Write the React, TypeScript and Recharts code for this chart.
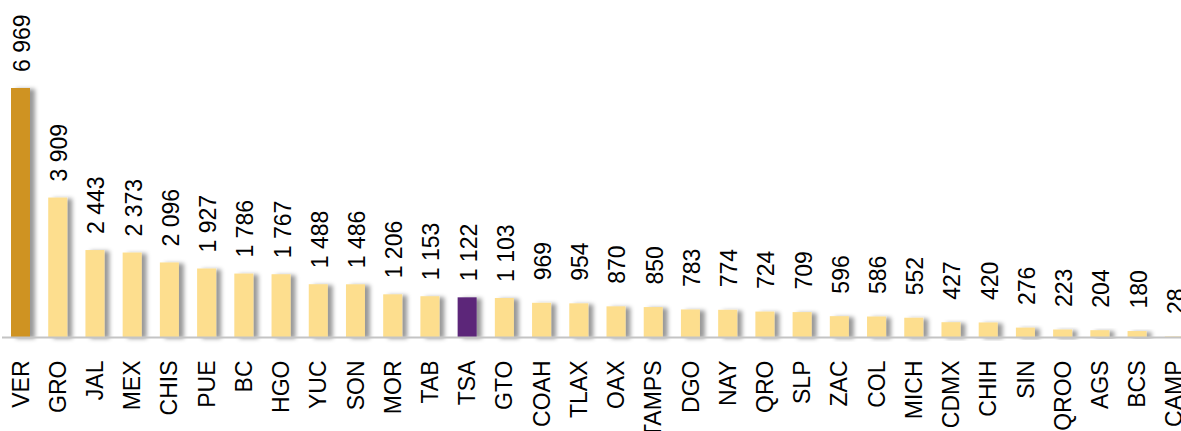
import React from 'react';
import { BarChart, Bar, XAxis, YAxis, LabelList, Cell } from 'recharts';

const categories = ['VER','GRO','JAL','MEX','CHIS','PUE','BC','HGO','YUC','SON','MOR','TAB','TSA','GTO','COAH','TLAX','OAX','TAMPS','DGO','NAY','QRO','SLP','ZAC','COL','MICH','CDMX','CHIH','SIN','QROO','AGS','BCS','CAMP'];
const values = [6969,3909,2443,2373,2096,1927,1786,1767,1488,1486,1206,1153,1122,1103,969,954,870,850,783,774,724,709,596,586,552,427,420,276,223,204,180,28];
const leaderCategory = 'VER';
const focusCategory = 'TSA';

const COLOR_LEADER = '#CF9322';
const COLOR_FOCUS = '#5B2579';
const COLOR_OTHER = '#FDDE8E';
const FONT = '"Liberation Sans", Arial, sans-serif';
const FS = 23;

const data = categories.map((c, i) => ({ name: c, value: values[i] }));

const fmt = (v: number) => String(v).replace(/\B(?=(\d{3})+(?!\d))/g, ' ');

const BarShape = (props: any) => {
  const { x, y, width, height, fill } = props;
  if (!height || height <= 0) return null;
  return <rect x={x} y={y} width={width} height={height} fill={fill} filter="url(#barShadow)" />;
};

const ValueLabel = (props: any) => {
  const { x, y, width, value } = props;
  const v = Number(value);
  const tx = x + width / 2 + 9.5;
  const ty = y - (v < 1000 ? 22.5 : 16);
  return (
    <text x={tx} y={ty} transform={`rotate(-90, ${tx}, ${ty})`} textAnchor="start" fontSize={FS} fontFamily={FONT} fill="#000">
      {fmt(v)}
    </text>
  );
};

const CategoryTick = (props: any) => {
  const { x, y, payload } = props;
  const tx = x + 8;
  const ty = y + 15;
  return (
    <text x={tx} y={ty} transform={`rotate(-90, ${tx}, ${ty})`} textAnchor="end" fontSize={FS} fontFamily={FONT} fill="#000">
      {payload.value}
    </text>
  );
};

export default function App() {
  return (
    <div style={{ position: 'fixed', left: 0, top: 0, width: 1181, height: 431, overflow: 'hidden', background: '#fff' }}>
      <svg width={0} height={0} style={{ position: 'absolute' }}>
        <defs>
          <filter id="barShadow" x="-50%" y="-20%" width="200%" height="140%">
            <feDropShadow dx={5} dy={1} stdDeviation={2} floodColor="#000" floodOpacity={0.4} />
          </filter>
        </defs>
      </svg>
      <BarChart width={1200} height={431} data={data} margin={{ top: 88, right: 7, bottom: 0, left: 2 }}>
        <XAxis
          dataKey="name"
          interval={0}
          tickLine={false}
          axisLine={{ stroke: '#c4c4c4', strokeWidth: 2 }}
          tick={<CategoryTick />}
          height={93.5}
        />
        <YAxis hide domain={[0, 'dataMax']} />
        <Bar dataKey="value" barSize={19} isAnimationActive={false} shape={<BarShape />}>
          {data.map((d) => (
            <Cell key={d.name} fill={d.name === leaderCategory ? COLOR_LEADER : d.name === focusCategory ? COLOR_FOCUS : COLOR_OTHER} />
          ))}
          <LabelList dataKey="value" content={<ValueLabel />} />
        </Bar>
      </BarChart>
    </div>
  );
}
